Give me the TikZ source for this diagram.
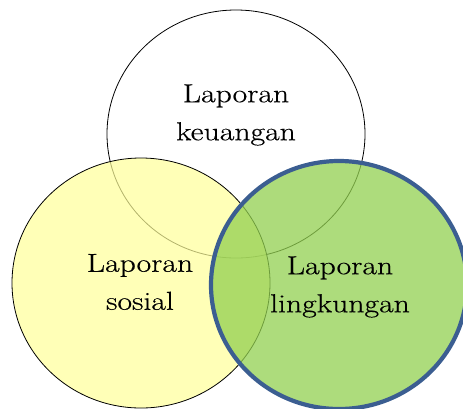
\documentclass[tikz,border=0pt]{standalone}
\usepackage{fontspec}
\setmainfont{Latin Modern Roman}[FakeStretch=1.22,FakeBold=0.4]
\definecolor{vennyellow}{RGB}{255,255,153}
\definecolor{venngreen}{RGB}{146,208,80}
\definecolor{vennblue}{RGB}{59,94,145}
\begin{document}
\begin{tikzpicture}[x=1pt,y=-1pt,
  setcircle/.style={draw=black,line width=0.8pt},
  lbl/.style={align=center,font=\fontsize{26}{38}\selectfont,inner sep=0pt}]
\useasboundingbox (0,0) rectangle (463,408);
\clip (0,0) rectangle (463,408);
% top circle
\path[setcircle,fill=white] (236,134) ellipse [x radius=129,y radius=124];
% left circle
\path[setcircle,fill=vennyellow,fill opacity=0.7] (141,283) ellipse [x radius=129,y radius=125];
% right circle
\path[draw=vennblue,line width=4.2pt,fill=venngreen,fill opacity=0.75] (339,285) ellipse [x radius=128,y radius=124];
\node[lbl] (keu) at (236,115) {Laporan\\keuangan};
\node[lbl] (sos) at (140,282) {Laporan\\sosial};
\node[lbl] (ling) at (340,287) {Laporan\\lingkungan};
\end{tikzpicture}
\end{document}
